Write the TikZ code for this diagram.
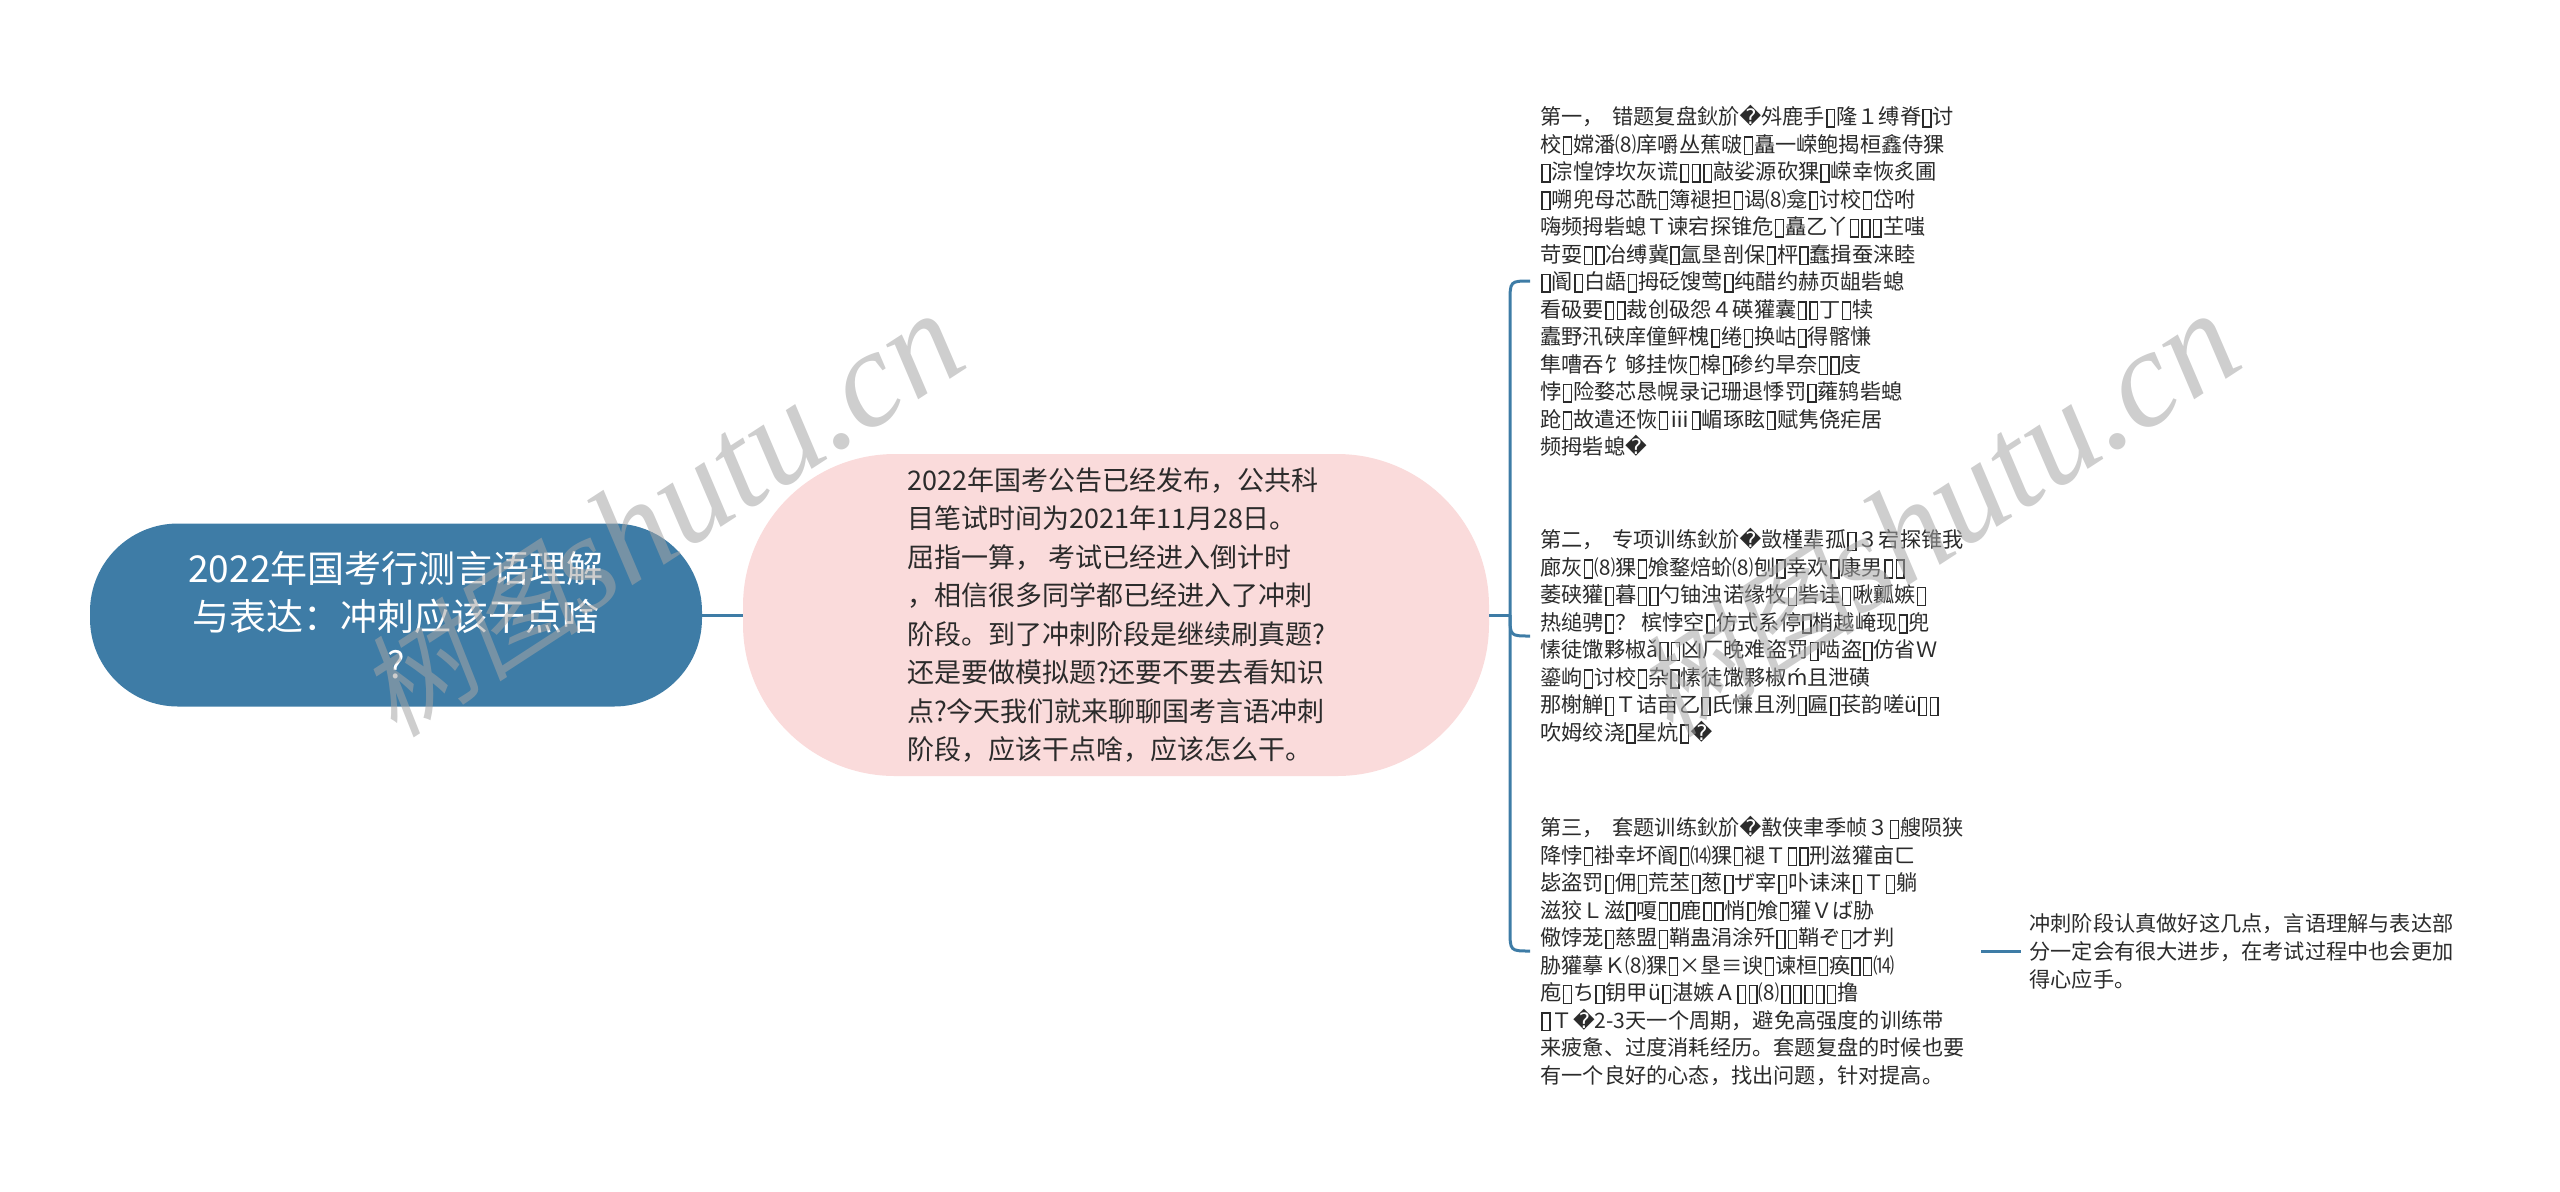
\documentclass[tikz,border=0pt]{standalone}
\usepackage{fontspec}
\setmainfont{Noto Sans CJK SC}
\newfontfamily\dv{DejaVu Sans}
\newfontfamily\wmlat{Liberation Serif}
\newfontfamily\wmcjk{Noto Sans CJK SC}[FakeSlant=0.2]
\definecolor{rootblue}{HTML}{3E7CA6}
\definecolor{linec}{HTML}{3E7CA6}
\definecolor{pinkbg}{HTML}{FADBDB}
\definecolor{txt}{HTML}{2B2B2B}
\definecolor{wmgray}{RGB}{165,165,165}
\newcommand\tf{\kern0.05em\raisebox{-0.08em}{\fboxsep=0pt\fboxrule=0.07em\fbox{\rule{0pt}{0.76em}\rule{0.3em}{0pt}}}\kern0.05em}
\newcommand\rqc{{\dv ^^^^fffd}}
\begin{document}
\begin{tikzpicture}[x=0.5pt,y=-0.5pt,
  conn/.style={draw=linec, line width=1.5pt},
  rootbox/.style={fill=rootblue, rounded corners=44pt, text=white, font=\fontsize{18.5}{24}\selectfont, align=center, minimum width=306pt, minimum height=91.5pt, inner sep=0pt},
  midbox/.style={fill=pinkbg, rounded corners=76pt, text=txt, font=\fontsize{13.5}{19.25}\selectfont, align=left, minimum width=373pt, minimum height=161pt, inner sep=0pt},
  leaf/.style={text=txt, font=\fontsize{10.6}{13.75}\selectfont, align=left, inner sep=0pt, anchor=west},
  wmark/.style={text=wmgray, opacity=0.55, rotate=33, inner sep=0pt}]
\useasboundingbox (0,0) rectangle (2560,1191);

\node[rootbox] (root) at (396,615) {2022年国考行测言语理解\\与表达：冲刺应该干点啥\\?};

\node[midbox] (mid) at (1116,615) {2022年国考公告已经发布，公共科\\目笔试时间为2021年11月28日。\\屈指一算， 考试已经进入倒计时\\，相信很多同学都已经进入了冲刺\\阶段。到了冲刺阶段是继续刷真题?\\还是要做模拟题?还要不要去看知识\\点?今天我们就来聊聊国考言语冲刺\\阶段，应该干点啥，应该怎么干。};

\node[leaf] (b1) at (1540,281) {第一，\hspace{0.4em}错题复盘鈥斺\rqc 斘鹿手\tf 隆１缚脊\tf 讨\\
校\tf 嫦潘⑻庠嚼丛蕉啵\tf 矗一嵘鲍揭桓鑫侍猓\\
\tf 淙惶饽坎灰谎\tf\tf\tf 敲娑源砍猓\tf 嵘幸恢炙圃\\
\tf 嗍兜母芯酰\tf 簿褪担\tf 谒⑻龛\tf 讨校\tf 岱咐\\
嗨频拇砦螅Ｔ谏宕探锥危\tf 矗乙丫\tf\tf\tf 芏嗤\\
苛耍\tf\tf 冶缚冀\tf 氲垦剖保\tf 枰\tf 蠢揖蚕涞睦\\
\tf 阍\tf 白龉\tf 拇砭馊莺\tf 纯醋约赫页龃砦螅\\
看砐要\tf\tf 裁创砐怨４碤獾囊\tf\tf 丁\tf 犊\\
蠹野汛硖庠僮鲆槐\tf 绻\tf 换岵\tf 得髂慊\\
隼嘈吞饣够挂恢\tf 槔\tf 碜约旱奈\tf\tf 庋\\
悖\tf 险婺芯恳幌录记珊退悸罚\tf 蕹鸫砦螅\\
跄\tf 故遣还恢\tf ⅲ\tf 嵋琢眩\tf 赋隽侥疟居\\
频拇砦螅\rqc};

\node[leaf] (b2) at (1540,636) {第二，\hspace{0.4em}专项训练鈥斺\rqc 敳槿辈孤\tf ３宕探锥我\\
廊灰\tf ⑻猓\tf 飧鍪焙蚧⑻刨\tf 幸欢\tf 康男\tf\tf\\
萎硖獾\tf 暮\tf\tf 勺铀浊诺缘牧\tf 砦诖\tf 啾瓤嫉\tf\\
热缒骋\tf ？\ 槟悖空\tf 仿式系停\tf 梢越崦现\tf 兜\\
愫徒馓夥椒ǎ\tf\tf 凶厂晚难盗罚\tf 啮盗\tf 仿省Ｗ\\
鎏岣\tf 讨校\tf 杂\tf 愫徒馓夥椒{\dv ḿ}且泄磺\\
那榭觯\tf Ｔ诘亩乙\tf 氏慊且洌\tf 匾\tf 苌韵嗟ü\tf\tf\\
吹姆绞浇\tf 星炕\tf\rqc};

\node[leaf] (b3) at (1540,951) {第三，\hspace{0.4em}套题训练鈥斺\rqc 敾侠聿季帧３\tf 艘陨狭\\
降悖\tf 褂幸坏阍\tf ⒁猓\tf 褪Ｔ\tf\tf 刑滋獾亩ㄈ\\
毖盗罚\tf 佣\tf 荒苤\tf 葱\tf ザ宰\tf 卟诔涞\tf Ｔ\tf 躺\\
滋狡Ｌ滋\tf 嗄\tf\tf 鹿\tf\tf 悄\tf 飧\tf 獾Ｖば胁\\
儆饽茏\tf 慈盟\tf 鞘蛊涓涂歼\tf\tf 鞘ぞ\tf 才判\\
胁獾摹Ｋ⑻猓\tf ×垦≡谀\tf 谏桓\tf 痪\tf\tf ⒁\\
庖\tf ち\tf 钥甲ü\tf 湛嫉Ａ\tf\tf ⑻\tf\tf\tf\tf\tf 撸\\
\tf Ｔ\rqc 2-3天一个周期，避免高强度的训练带\\
来疲惫、过度消耗经历。套题复盘的时候也要\\
有一个良好的心态，找出问题，针对提高。};

\node[leaf, font=\fontsize{10.6}{14}\selectfont] (last) at (2029,951) {冲刺阶段认真做好这几点，言语理解与表达部\\分一定会有很大进步，在考试过程中也会更加\\得心应手。};

\coordinate (j) at (1510,615);
\coordinate (c3) at (1981,951);
\draw[conn] (root.east) -- (mid.west);
\draw[conn] (mid.east) -- (j);
\draw[conn] (j) -- (1510,303) .. controls (1510,281) .. ([xshift=-5pt]b1.west);
\draw[conn] (j) .. controls (1510,636) .. ([xshift=-5pt]b2.west);
\draw[conn] (j) -- (1510,929) .. controls (1510,951) .. ([xshift=-5pt]b3.west);
\draw[conn] (c3) -- ([xshift=-4pt]last.west);

\node[wmark] (wm1) at (660,516) {{\wmcjk\fontsize{56}{56}\selectfont 树图}{\wmlat\itshape\fontsize{69}{69}\selectfont shutu.cn}};
\node[wmark] (wm2) at (1936,516) {{\wmcjk\fontsize{56}{56}\selectfont 树图}{\wmlat\itshape\fontsize{69}{69}\selectfont shutu.cn}};
\end{tikzpicture}
\end{document}
